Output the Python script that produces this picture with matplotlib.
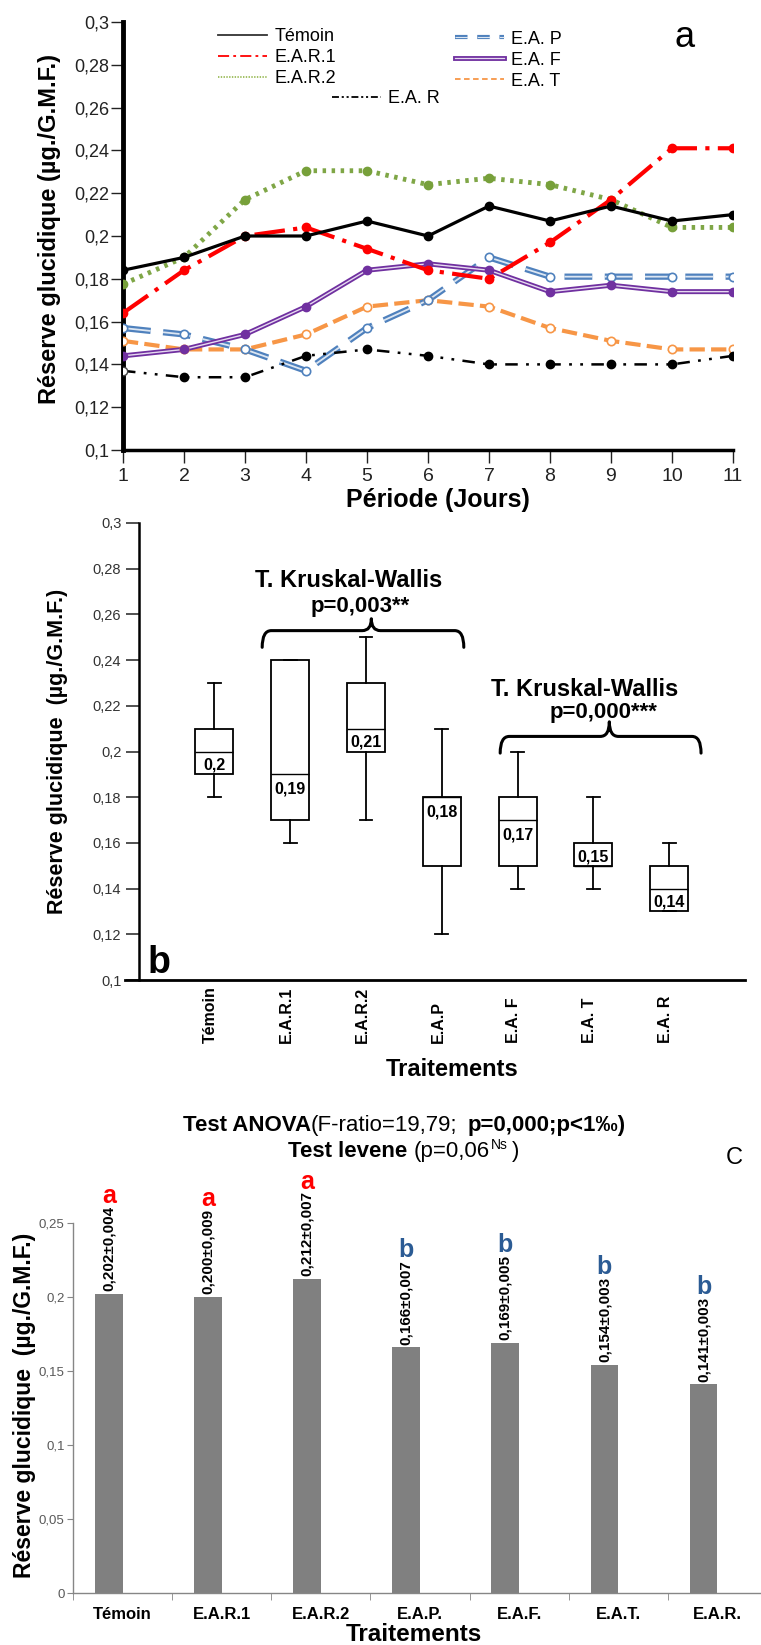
import numpy as np
import matplotlib
matplotlib.use("Agg")
from matplotlib import pyplot as plt
from matplotlib.lines import Line2D
from matplotlib.path import Path
from matplotlib.patches import PathPatch
from matplotlib.ticker import FuncFormatter
import matplotlib.patheffects as pe

plt.rcParams['font.family'] = ['Liberation Sans', 'DejaVu Sans']
plt.rcParams['lines.scale_dashes'] = False

# ---- panel a : evolution over the days
days = np.arange(1, 12)
temoin = [0.184, 0.190, 0.200, 0.200, 0.207, 0.200, 0.214, 0.207, 0.214, 0.207, 0.210]
ear1 = [0.164, 0.184, 0.200, 0.204, 0.194, 0.184, 0.180, 0.197, 0.217, 0.241, 0.241]
ear2 = [0.1775, 0.190, 0.217, 0.2305, 0.2305, 0.224, 0.227, 0.224, 0.217, 0.204, 0.204]
eap = [0.157, 0.154, 0.147, 0.137, 0.157, 0.170, 0.190, 0.181, 0.181, 0.181, 0.181]
eaf = [0.144, 0.147, 0.154, 0.167, 0.184, 0.187, 0.184, 0.174, 0.177, 0.174, 0.174]
eat = [0.151, 0.147, 0.147, 0.154, 0.167, 0.170, 0.167, 0.157, 0.151, 0.147, 0.147]
ear = [0.137, 0.134, 0.134, 0.144, 0.147, 0.144, 0.140, 0.140, 0.140, 0.140, 0.144]

# ---- panel b : box plots
box_names = ["Témoin", "E.A.R.1", "E.A.R.2", "E.A.P", "E.A. F", "E.A. T", "E.A. R"]
box_whislo = [0.18, 0.16, 0.17, 0.12, 0.14, 0.14, 0.13]
box_q1 = [0.19, 0.17, 0.20, 0.15, 0.15, 0.15, 0.13]
box_med = [0.20, 0.19, 0.21, 0.18, 0.17, 0.15, 0.14]
box_q3 = [0.21, 0.24, 0.23, 0.18, 0.18, 0.16, 0.15]
box_whishi = [0.23, 0.24, 0.25, 0.21, 0.20, 0.18, 0.16]

# ---- panel c : means
bar_names = ["Témoin", "E.A.R.1", "E.A.R.2", "E.A.P.", "E.A.F.", "E.A.T.", "E.A.R."]
bar_means = [0.202, 0.200, 0.212, 0.166, 0.169, 0.154, 0.141]
bar_err = [0.004, 0.009, 0.007, 0.007, 0.005, 0.003, 0.003]
bar_groups = ["a", "a", "a", "b", "b", "b", "b"]

W, H = 761, 1645
comma = FuncFormatter(lambda v, p: f"{v:g}".replace(".", ","))


def rect(left, top, right, bottom):
    return [left / W, 1 - bottom / H, (right - left) / W, (bottom - top) / H]


fig = plt.figure(figsize=(W / 100, H / 100), dpi=100)

# =================== a
ax = fig.add_axes(rect(123, 22, 733, 450))
blue, purple, orange, green = "#4F81BD", "#7030A0", "#F79646", "#7FA646"

ax.plot(days, eat, color=orange, lw=3, dashes=(11, 4.5), zorder=2)
ax.plot(days, eat, "o", ms=6, mfc="white", mec=orange, mew=1.2, zorder=3)
ax.plot(days, eap, color=blue, lw=4.5, dashes=(20, 9), zorder=2,
        path_effects=[pe.Stroke(linewidth=4.5, foreground=blue),
                      pe.Stroke(linewidth=1.3, foreground="#DCE6F2")])
ax.plot(days, eap, "o", ms=6, mfc="white", mec=blue, mew=1.2, zorder=3)
ax.plot(days, eaf, color=purple, lw=3.6, zorder=2,
        path_effects=[pe.Stroke(linewidth=3.6, foreground=purple),
                      pe.Stroke(linewidth=1.0, foreground="#E6DAF0")])
ax.plot(days, eaf, "o", ms=6, color=purple, zorder=3)
ax.plot(days, ear, color="black", lw=1.8, dashes=(9, 6, 2, 6, 2, 6), zorder=2)
ax.plot(days[1:], ear[1:], "o", ms=6, color="black", zorder=3)
ax.plot(days[:1], ear[:1], "o", ms=6, mfc="white", mec="#444444", mew=1, zorder=3)
ax.plot(days, ear2, color=green, lw=3.5, dashes=(2.5, 4), zorder=2)
ax.plot(days, ear2, "o", ms=6, color="#77A03A", zorder=3)
ax.plot(days, ear1, color="red", lw=3, dashes=(22, 6, 3, 6), zorder=4)
ax.plot(days, ear1, "o", ms=6, color="red", zorder=4)
ax.plot(days, temoin, color="black", lw=2.3, marker="o", ms=6, zorder=5)

ax.set_xlim(1, 11)
ax.set_ylim(0.1, 0.3)
ax.set_xticks(days)
ax.set_yticks(np.arange(0.1, 0.301, 0.02))
ax.yaxis.set_major_formatter(comma)
for s in ("top", "right"):
    ax.spines[s].set_visible(False)
ax.spines["left"].set_linewidth(3.5)
ax.spines["bottom"].set_linewidth(2.5)
ax.tick_params(axis="y", length=9, width=1, pad=1, labelsize=13, colors="#222222")
ax.tick_params(axis="x", length=9, width=1, pad=4, labelsize=14, colors="#222222")
ax.set_ylabel("Réserve glucidique (µg./G.M.F.)", fontsize=17, fontweight="bold")
ax.yaxis.set_label_coords(-0.102, 0.516)
ax.set_xlabel("Période (Jours)", fontsize=18, fontweight="bold")
ax.xaxis.set_label_coords(0.516, -0.089)
ax.text(0.92, 0.963, "a", transform=ax.transAxes, fontsize=26, ha="center", va="center")

h_tem = Line2D([], [], color="#333333", lw=1.3)
h_ear1 = Line2D([], [], color="red", lw=1.3, dashes=(8, 3, 2, 3))
h_ear2 = Line2D([], [], color="#9BBB59", lw=1.3, dashes=(1, 1))
h_eap = Line2D([], [], color=blue, lw=3, dashes=(9, 7),
               path_effects=[pe.Stroke(linewidth=3, foreground=blue),
                             pe.Stroke(linewidth=0.8, foreground="#DCE6F2")])
h_eaf = Line2D([], [], color=purple, lw=3.5,
               path_effects=[pe.Stroke(linewidth=3.5, foreground=purple),
                             pe.Stroke(linewidth=0.9, foreground="#E6DAF0")])
h_eat = Line2D([], [], color=orange, lw=1.3, dashes=(4, 2.5))
h_ear = Line2D([], [], color="black", lw=1.3, dashes=(5, 2, 1.5, 2, 1.5, 2))

leg_kw = dict(frameon=False, fontsize=13, handlelength=2.7, handletextpad=0.4,
              labelspacing=0.22, borderpad=0, borderaxespad=0, loc="upper left")
leg1 = ax.legend([h_tem, h_ear1, h_ear2], ["Témoin", "E.A.R.1", "E.A.R.2"],
                 bbox_to_anchor=(0.156, 0.985), **leg_kw)
ax.add_artist(leg1)
leg2 = ax.legend([h_eap, h_eaf, h_eat], ["E.A. P", "E.A. F", "E.A. T"],
                 bbox_to_anchor=(0.544, 0.98), **leg_kw)
ax.add_artist(leg2)
ax.legend([h_ear], ["E.A. R"], bbox_to_anchor=(0.343, 0.84), **leg_kw)

# =================== b
bx = fig.add_axes(rect(125, 523, 745, 980))
stats = [dict(med=m, q1=a, q3=b, whislo=lo, whishi=hi, fliers=[], label=n)
         for n, lo, a, m, b, hi in zip(box_names, box_whislo, box_q1, box_med, box_q3, box_whishi)]
pos = np.arange(1, len(stats) + 1)
bx.bxp(stats, positions=pos, widths=0.5, capwidths=0.17, showfliers=False,
       patch_artist=True, manage_ticks=False,
       boxprops=dict(facecolor="white", edgecolor="black", linewidth=1.3),
       medianprops=dict(color="black", linewidth=1),
       whiskerprops=dict(color="black", linewidth=1.3),
       capprops=dict(color="black", linewidth=1.3))
for p, m, a, b in zip(pos, box_med, box_q1, box_q3):
    ly = min(max(m - 0.0065, a + 0.004), b - 0.004)
    bx.text(p, ly, f"{m:g}".replace(".", ","), ha="center", va="center",
            fontsize=11.5, fontweight="bold")
bx.set_xlim(-0.18, 8)
bx.set_ylim(0.1, 0.3)
bx.set_yticks(np.arange(0.1, 0.301, 0.02))
bx.yaxis.set_major_formatter(comma)
for s in ("top", "right"):
    bx.spines[s].set_visible(False)
bx.spines["left"].set_position(("data", 0))
bx.spines["left"].set_linewidth(1.8)
bx.spines["bottom"].set_linewidth(2)
bx.tick_params(axis="y", length=9.5, width=1.2, pad=3, labelsize=10.5, colors="#333333")
bx.tick_params(axis="x", bottom=False, labelbottom=False)
tr = bx.get_xaxis_transform()
for p, n in zip(pos, box_names):
    bx.text(p - 0.05, -0.138, n, transform=tr, rotation=90, ha="center", va="bottom",
            fontsize=11.5, fontweight="bold")
bx.text(0.527, -0.171, "Traitements", transform=bx.transAxes, ha="center", va="top",
        fontsize=17, fontweight="bold")
bx.set_ylabel("Réserve glucidique  (µg./G.M.F.)", fontsize=15.5, fontweight="bold")
bx.yaxis.set_label_coords(-0.092, 0.501)
bx.text(0.037, 0.015, "b", transform=bx.transAxes, fontsize=27, fontweight="bold",
        ha="left", va="baseline")


def brace(axis, x0, x1, xt, ybar, yend, ytip, r=0.12):
    verts = [(x0, yend), (x0, ybar), (x0 + r, ybar),
             (xt - r, ybar), (xt, ybar), (xt, ytip),
             (xt, ybar), (xt + r, ybar),
             (x1 - r, ybar), (x1, ybar), (x1, yend)]
    codes = [Path.MOVETO, Path.CURVE3, Path.CURVE3,
             Path.LINETO, Path.CURVE3, Path.CURVE3,
             Path.CURVE3, Path.CURVE3,
             Path.LINETO, Path.CURVE3, Path.CURVE3]
    axis.add_patch(PathPatch(Path(verts, codes), fill=False, lw=2.2, color="black",
                             capstyle="round", joinstyle="round"))


brace(bx, 1.63, 4.29, 3.07, 0.2529, 0.2456, 0.2581)
bx.text(2.77, 0.2747, "T. Kruskal-Wallis", ha="center", va="center", fontsize=17, fontweight="bold")
bx.text(2.92, 0.2634, "p=0,003**", ha="center", va="center", fontsize=16, fontweight="bold")
brace(bx, 4.77, 7.42, 6.21, 0.2066, 0.1993, 0.2130)
bx.text(5.88, 0.2272, "T. Kruskal-Wallis", ha="center", va="center", fontsize=17, fontweight="bold")
bx.text(6.13, 0.2169, "p=0,000***", ha="center", va="center", fontsize=16, fontweight="bold")

# =================== c
cx = fig.add_axes(rect(73, 1223, 767, 1593))
xc = np.arange(len(bar_means))
cx.bar(xc, bar_means, width=-0.28, align="edge", color="#808080")
for i, (m, e, g) in enumerate(zip(bar_means, bar_err, bar_groups)):
    lab = f"{m:.3f}±{e:.3f}".replace(".", ",")
    t = cx.annotate(lab, xy=(i - 0.14, m), xytext=(0, 2), textcoords="offset points",
                    rotation=90, ha="center", va="bottom", fontsize=11, fontweight="bold")
    cx.annotate(g, xy=(0.5, 1), xycoords=t, xytext=(0, 2), textcoords="offset points",
                ha="center", va="baseline", fontsize=18, fontweight="bold",
                color="#FF0000" if g == "a" else "#2B5B94")
cx.set_xlim(-0.5, 6.5)
cx.set_ylim(0, 0.25)
cx.set_yticks(np.arange(0, 0.251, 0.05))
cx.yaxis.set_major_formatter(comma)
cx.set_xticks(xc)
cx.set_xticklabels(bar_names, fontsize=12, fontweight="bold")
cx.set_xticks(np.arange(-0.5, 7, 1), minor=True)
for s in ("top", "right"):
    cx.spines[s].set_visible(False)
for s in ("left", "bottom"):
    cx.spines[s].set_color("#868686")
    cx.spines[s].set_linewidth(1)
cx.tick_params(axis="y", length=4, color="#868686", labelsize=9.5, labelcolor="#595959", pad=2)
cx.tick_params(axis="x", which="major", length=0, pad=10)
cx.tick_params(axis="x", which="minor", length=5, color="#868686")
cx.set_ylabel("Réserve glucidique  (µg./G.M.F.)", fontsize=16.5, fontweight="bold")
cx.yaxis.set_label_coords(-0.053, 0.508)
cx.set_xlabel("Traitements", fontsize=17.5, fontweight="bold")
cx.xaxis.set_label_coords(0.491, -0.081)


def rich_line(xc_px, y_px, parts):
    texts = []
    for s, weight, size, dy, gap in parts:
        t = fig.text(0, 1 - (y_px - dy) / H, s, fontsize=size, fontweight=weight, va="baseline")
        texts.append((t, gap))
    r = fig.canvas.get_renderer()
    widths = [t.get_window_extent(r).width for t, _ in texts]
    total = sum(widths) + sum(g for _, g in texts)
    x = xc_px - total / 2
    for (t, g), w in zip(texts, widths):
        x += g
        t.set_x(x / W)
        x += w


rich_line(404, 1131, [("Test ANOVA", "bold", 16, 0, 0),
                      ("(F-ratio=19,79;", "normal", 16, 0, 0),
                      ("p=0,000;p<1‰)", "bold", 16, 0, 10)])
rich_line(404, 1157, [("Test levene", "bold", 16, 0, 0),
                      ("(p=0,06", "normal", 16, 0, 6),
                      ("Ns", "normal", 10, 8, 1),
                      (")", "normal", 16, 0, 5)])
fig.text(734 / W, 1 - 1158 / H, "C", fontsize=17, ha="center", va="center")

fig.savefig("out.png", dpi=100)
